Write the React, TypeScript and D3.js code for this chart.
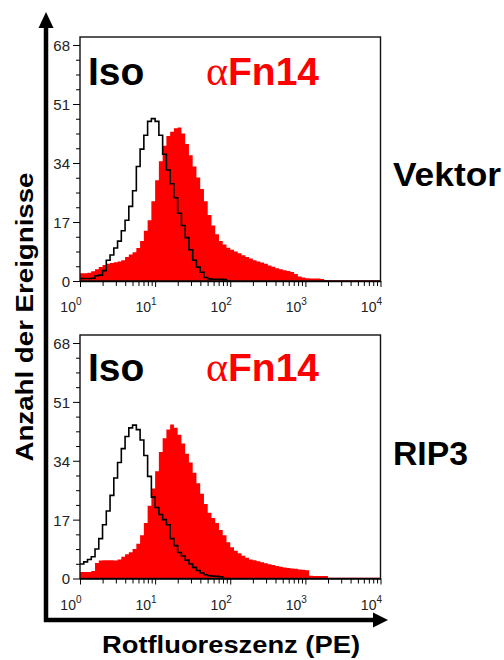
import React, { useEffect, useRef } from 'react';
import * as d3 from 'd3';

// histogram counts, 20 channels per decade starting at 10^0
const topIso = [
  0.7, 0.7, 0.7, 0.8, 1.5, 1.7, 3, 6, 7.5, 9.5,
  11.5, 14.5, 17.5, 21.5, 26, 33, 38, 42, 46, 46.8,
  46, 42, 36.5, 32, 28, 24, 19.5, 16, 12.5, 9,
  6, 4, 2.5, 1, 0.6, 0.5, 0.5, 0.5, 0.4, 0,
];
const topFn14 = [
  2.2, 2.2, 2.4, 2.8, 3.4, 4.0, 4.6, 5.0, 5.2, 5.4,
  5.6, 6.0, 6.9, 7.6, 8.3, 9.5, 11.5, 14.5, 17.5, 23,
  29, 34.5, 39, 41.8, 43, 44, 44.2, 42.5, 39.5, 36.2,
  33, 29.8, 26.5, 23, 19, 16, 13.5, 11.5, 10.5, 9.6,
  9, 8.5, 8, 7.4, 6.9, 6.5, 6, 5.6, 5.3, 5,
  4.5, 4.1, 3.7, 3.4, 3.1, 2.9, 2.6, 2, 1.3, 1,
  0.8, 0.7, 0.7, 0.7, 0.6, 0.3, 0.2, 0.2, 0.2, 0.2,
  0.2, 0.2, 0.2, 0.2, 0.2, 0.2, 0.2, 0.2, 0.2, 0.2,
];
const bottomIso = [
  4.2, 4.8, 5.5, 6.3, 8.5, 11.5, 15.5, 19.5, 24, 29,
  33.5, 37.5, 41, 43.5, 44.3, 43, 40, 35.5, 29.5, 23.5,
  20.5, 18.5, 17, 15.5, 11.5, 9.5, 7.5, 6.5, 5.3, 4.2,
  3.2, 2.3, 1.6, 1.1, 0.8, 0.7, 0.6, 0.5, 0, 0,
];
const bottomFn14 = [
  1.9, 1.9, 1.9, 2.2, 4.5, 5.2, 5.3, 5.3, 5.3, 5.2,
  5.5, 6.3, 7, 7.6, 8.5, 10, 12.5, 16, 21, 26,
  31, 36.5, 40.5, 43, 44.5, 43.5, 41.5, 39, 36, 33.5,
  30.5, 27.5, 24.5, 21.5, 19, 17.5, 16, 14, 12.5, 10.5,
  9, 8, 7.3, 6.6, 6, 5.5, 5.3, 5, 4.7, 4.4,
  4.1, 3.9, 3.6, 3.4, 3.2, 3, 2.9, 2.8, 2.6, 2.5,
  2.4, 0.8, 0.7, 0.7, 0.7, 0.7, 0.2, 0.2, 0.2, 0.2,
  0.2, 0.2, 0.2, 0.2, 0.2, 0.2, 0.2, 0.2, 0.2, 0.2,
];

const yTickValues = [0, 17, 34, 51, 68];
const xTickValues = [1, 10, 100, 1000, 10000];
const xTickExponents = ['0', '1', '2', '3', '4'];
const panelLabels = ['Vektor', 'RIP3'];

const FONT = 'Liberation Sans, Arial, sans-serif';

const App = () => {
  const chartRef = useRef<SVGSVGElement>(null);

  useEffect(() => {
    const svg = d3.select(chartRef.current);
    svg.selectAll('*').remove();

    const left = 80;
    const right = 380.5;
    const panels = [
      { top: 37, y0: 281, y68: 45, iso: topIso, fn: topFn14, label: panelLabels[0], labelY: 186, labelW: 108, textY: 85 },
      { top: 335, y0: 578.5, y68: 343, iso: bottomIso, fn: bottomFn14, label: panelLabels[1], labelY: 465, labelW: 75, textY: 381 },
    ];

    const x = d3.scaleLog().domain([1, 1e4]).range([left, right]);
    const chX = (i: number) => x(Math.pow(10, i / 20));

    const minorX: number[] = [];
    for (let d = 1; d < 1e4; d *= 10) for (let k = 2; k <= 9; k++) minorX.push(d * k);
    const minorY = d3.range(0, 68.01, 4.25).filter(v => !yTickValues.includes(v));

    panels.forEach(p => {
      const y = d3.scaleLinear().domain([0, 68]).range([p.y0, p.y68]);
      const g = svg.append('g');

      const area = d3.area<number>()
        .x((d, i) => chX(i))
        .y0(y(0))
        .y1(d => y(d))
        .curve(d3.curveStepAfter);
      g.append('path')
        .datum([...p.fn, p.fn[p.fn.length - 1]])
        .attr('d', area)
        .attr('fill', '#ff0000');

      const line = d3.line<number>()
        .x((d, i) => chX(i))
        .y(d => y(d))
        .curve(d3.curveStepAfter);
      g.append('path')
        .datum([...p.iso, 0])
        .attr('d', line)
        .attr('fill', 'none')
        .attr('stroke', '#000')
        .attr('stroke-width', 1.6);

      // frame
      g.append('rect')
        .attr('x', left)
        .attr('y', p.top)
        .attr('width', right - left)
        .attr('height', p.y0 - p.top)
        .attr('fill', 'none')
        .attr('stroke', '#111')
        .attr('stroke-width', 1.4);

      // y axis
      const yAxis = g.append('g')
        .attr('transform', `translate(${left},0)`)
        .call(d3.axisLeft(y).tickValues(yTickValues).tickSize(7).tickSizeOuter(0).tickPadding(3));
      yAxis.select('.domain').remove();
      yAxis.selectAll('text')
        .attr('fill', '#222')
        .attr('dy', '0.36em')
        .style('font-size', '15px')
        .style('font-family', FONT);
      const yMinor = g.append('g')
        .attr('transform', `translate(${left},0)`)
        .call(d3.axisLeft(y).tickValues(minorY).tickSize(4).tickFormat(() => ''));
      yMinor.select('.domain').remove();

      // x axis
      const xAxis = g.append('g')
        .attr('transform', `translate(0,${p.y0})`)
        .call(d3.axisBottom(x).tickValues(xTickValues).tickSize(6).tickSizeOuter(0).tickFormat(() => ''));
      xAxis.select('.domain').attr('stroke-width', 1.4);
      const xMinor = g.append('g')
        .attr('transform', `translate(0,${p.y0})`)
        .call(d3.axisBottom(x).tickValues(minorX).tickSize(5).tickFormat(() => ''));
      xMinor.select('.domain').remove();

      xTickValues.forEach((v, i) => {
        const t = g.append('text')
          .attr('x', x(v) + 1.5)
          .attr('y', p.y0 + 31)
          .attr('text-anchor', 'end')
          .style('font-family', FONT)
          .style('font-size', '14px')
          .attr('fill', '#222');
        t.append('tspan').text('10');
        t.append('tspan').style('font-size', '10px').attr('dy', -7).text(xTickExponents[i]);
      });

      // legend words
      g.append('text')
        .attr('x', 88)
        .attr('y', p.textY)
        .attr('font-family', FONT)
        .attr('font-weight', 'bold')
        .attr('font-size', 39)
        .attr('fill', '#000')
        .text('Iso');
      const fnText = g.append('text')
        .attr('x', 206)
        .attr('y', p.textY)
        .attr('font-family', FONT)
        .attr('font-weight', 'bold')
        .attr('font-size', 39)
        .attr('fill', '#ff0000');
      fnText.append('tspan')
        .attr('font-family', 'Liberation Serif, Times New Roman, serif')
        .attr('font-weight', 'normal')
        .attr('font-size', 42)
        .text('α');
      fnText.append('tspan').text('Fn14');

      g.append('text')
        .attr('x', 393)
        .attr('y', p.labelY)
        .attr('font-family', FONT)
        .attr('font-weight', 'bold')
        .attr('font-size', 33)
        .attr('textLength', p.labelW)
        .attr('lengthAdjust', 'spacingAndGlyphs')
        .text(p.label);
    });

    // outer arrows
    svg.append('line')
      .attr('x1', 46).attr('y1', 622).attr('x2', 46).attr('y2', 24)
      .attr('stroke', '#000').attr('stroke-width', 4.5);
    svg.append('polygon')
      .attr('points', '46,12 38.5,28 53.5,28')
      .attr('fill', '#000');
    svg.append('line')
      .attr('x1', 44).attr('y1', 620).attr('x2', 376).attr('y2', 620)
      .attr('stroke', '#000').attr('stroke-width', 4.5);
    svg.append('polygon')
      .attr('points', '388,620 373,612.5 373,627.5')
      .attr('fill', '#000');

    svg.append('text')
      .attr('transform', 'translate(33,317) rotate(-90)')
      .attr('text-anchor', 'middle')
      .attr('font-family', FONT)
      .attr('font-weight', 'bold')
      .attr('font-size', 24)
      .attr('textLength', 289)
      .attr('lengthAdjust', 'spacingAndGlyphs')
      .text('Anzahl der Ereignisse');

    svg.append('text')
      .attr('x', 231)
      .attr('y', 653)
      .attr('text-anchor', 'middle')
      .attr('font-family', FONT)
      .attr('font-weight', 'bold')
      .attr('font-size', 23)
      .attr('textLength', 258)
      .attr('lengthAdjust', 'spacingAndGlyphs')
      .text('Rotfluoreszenz (PE)');
  }, []);

  return (
    <svg
      ref={chartRef}
      width={504}
      height={660}
      style={{ position: 'absolute', left: 0, top: 0, background: '#fff' }}
    />
  );
};

export default App;
